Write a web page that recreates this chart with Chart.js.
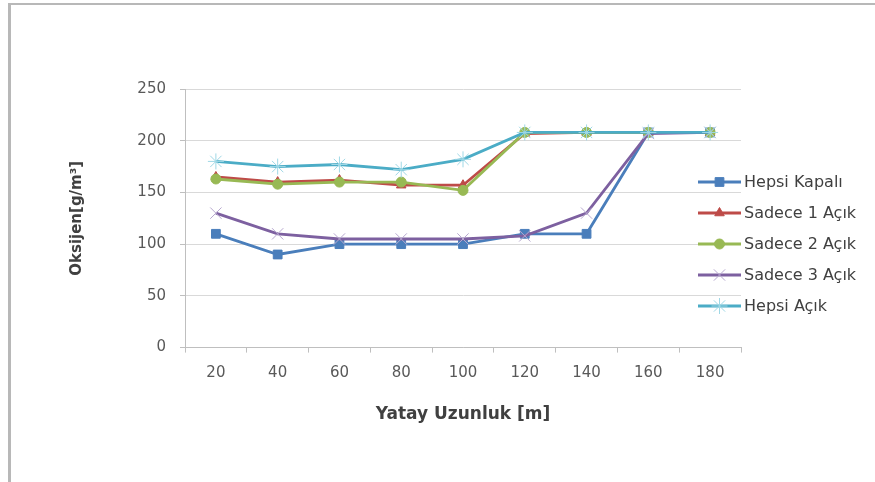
<!DOCTYPE html>
<html>
<head>
<meta charset="utf-8">
<script src="https://cdn.jsdelivr.net/npm/chart.js@4/dist/chart.umd.min.js"></script>
<style>
  html, body { margin: 0; padding: 0; background: #fff; }
  #wrap { width: 875px; height: 482px; }
</style>
</head>
<body>
<div id="wrap"><canvas id="c" width="875" height="482"></canvas></div>
<script>
// Horizontal distance along the channel [m]
const distances = ['20', '40', '60', '80', '100', '120', '140', '160', '180'];
const yTicks = [0, 50, 100, 150, 200, 250];

// Oxygen concentration [g/m³] for each aerator configuration
const hepsiKapali  = [110, 90, 100, 100, 100, 110, 110, 208, 208];
const sadece1Acik  = [165, 160, 162, 157, 157, 207, 208, 208, 208];
const sadece2Acik  = [163, 158, 160, 160, 152, 208, 208, 208, 208];
const sadece3Acik  = [130, 110, 105, 105, 105, 108, 130, 207, 208];
const hepsiAcik    = [180, 175, 177, 172, 182, 208, 208, 208, 208];

const seriesNames = ['Hepsi Kapalı', 'Sadece 1 Açık', 'Sadece 2 Açık', 'Sadece 3 Açık', 'Hepsi Açık'];

const FONT = '"DejaVu Sans", "Liberation Sans", sans-serif';
const TEXT = '#595959';

function series(label, data, color, markerEdge, style, radius, order) {
  return {
    label, data,
    borderColor: color,
    backgroundColor: color,
    pointBackgroundColor: color,
    pointBorderColor: markerEdge,
    pointStyle: style,
    pointRadius: radius,
    pointBorderWidth: 1,
    borderWidth: 2.8,
    tension: 0,
    order
  };
}

const datasets = [
  series(seriesNames[0], hepsiKapali, '#4a7ebb', '#4a7ebb', 'rect', 6.2, 4),
  series(seriesNames[1], sadece1Acik, '#be4b48', '#be4b48', 'triangle', 5.5, 3),
  series(seriesNames[2], sadece2Acik, '#98b954', '#98b954', 'circle', 5, 2),
  series(seriesNames[3], sadece3Acik, '#7d60a0', '#b7a8cf', 'crossRot', 8, 1),
  series(seriesNames[4], hepsiAcik, '#4bacc6', '#9fd8e6', 'star', 8, 0)
];

// Outer frame of the chart object
const framePlugin = {
  id: 'frame',
  beforeDraw(chart) {
    const ctx = chart.ctx;
    ctx.save();
    ctx.fillStyle = '#fff';
    ctx.fillRect(0, 0, chart.width, chart.height);
    ctx.fillStyle = '#b8b8b8';
    ctx.fillRect(8, 3, 3, chart.height - 3);
    ctx.fillRect(8, 3, chart.width - 8, 2);
    ctx.restore();
  }
};

// Legend to the right of the plot: line sample with its marker, then the name
const sideLegend = {
  id: 'sideLegend',
  afterDraw(chart) {
    const ctx = chart.ctx;
    const x0 = 698, x1 = 741, top = 182, step = 31;
    chart.data.datasets.forEach((ds, i) => {
      const y = top + i * step;
      ctx.save();
      ctx.strokeStyle = ds.borderColor;
      ctx.lineWidth = ds.borderWidth;
      ctx.beginPath();
      ctx.moveTo(x0, y);
      ctx.lineTo(x1, y);
      ctx.stroke();
      ctx.fillStyle = ds.pointBackgroundColor;
      ctx.strokeStyle = ds.pointBorderColor;
      ctx.lineWidth = ds.pointBorderWidth;
      Chart.helpers.drawPoint(ctx, {
        pointStyle: ds.pointStyle,
        radius: ds.pointRadius,
        rotation: 0,
        borderWidth: ds.pointBorderWidth
      }, (x0 + x1) / 2, y);
      ctx.fillStyle = '#404040';
      ctx.font = '16px ' + FONT;
      ctx.textBaseline = 'middle';
      ctx.textAlign = 'left';
      ctx.fillText(ds.label, x1 + 3, y + 1);
      ctx.restore();
    });
  }
};

new Chart(document.getElementById('c'), {
  type: 'line',
  data: { labels: distances, datasets },
  plugins: [framePlugin, sideLegend],
  options: {
    responsive: false,
    animation: false,
    devicePixelRatio: 1,
    layout: { padding: { left: 68, right: 134, top: 89, bottom: 57 } },
    plugins: { legend: { display: false }, tooltip: { enabled: false } },
    scales: {
      x: {
        type: 'category',
        offset: true,
        grid: { display: true, drawOnChartArea: false, offset: true, tickLength: 5, color: '#bfbfbf' },
        border: { color: '#bfbfbf', width: 1 },
        ticks: { color: TEXT, font: { family: FONT, size: 15 }, padding: 12, maxRotation: 0 },
        title: {
          display: true, text: 'Yatay Uzunluk [m]', color: '#404040',
          font: { family: FONT, size: 17, weight: 'bold' }, padding: { top: 10, bottom: 0 }
        }
      },
      y: {
        min: 0, max: 250,
        afterBuildTicks(scale) { scale.ticks = yTicks.map(v => ({ value: v })); },
        afterFit(scale) { scale.width = 185 - 68; },
        grid: { color: '#d9d9d9', tickLength: 5, tickColor: '#bfbfbf' },
        border: { color: '#bfbfbf', width: 1 },
        ticks: { color: TEXT, font: { family: FONT, size: 15 }, padding: 14 },
        title: {
          display: true, text: 'Oksijen[g/m³]', color: '#404040',
          font: { family: FONT, size: 15, weight: 'bold' }, padding: 0
        }
      }
    }
  }
});
</script>
</body>
</html>
